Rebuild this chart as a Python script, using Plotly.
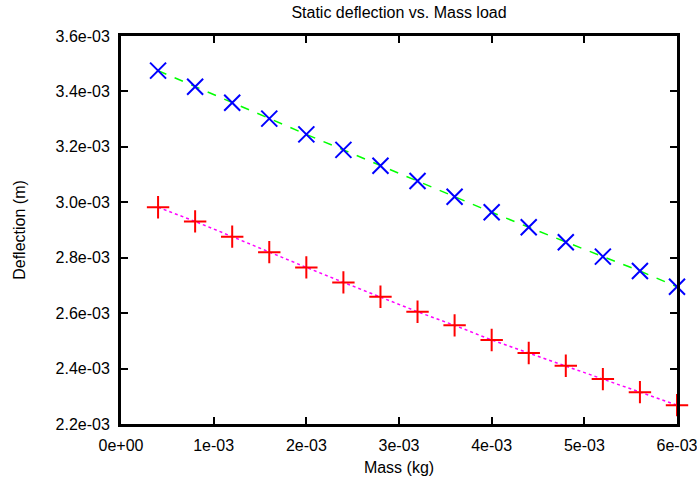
import plotly.graph_objects as go

mass = [0.4e-3, 0.8e-3, 1.2e-3, 1.6e-3, 2.0e-3, 2.4e-3, 2.8e-3, 3.2e-3,
        3.6e-3, 4.0e-3, 4.4e-3, 4.8e-3, 5.2e-3, 5.6e-3, 6.0e-3]
defl_blue = [3.475e-3, 3.417e-3, 3.359e-3, 3.302e-3, 3.245e-3, 3.189e-3, 3.132e-3,
             3.077e-3, 3.020e-3, 2.964e-3, 2.910e-3, 2.856e-3, 2.804e-3, 2.752e-3, 2.695e-3]
defl_red = [2.982e-3, 2.931e-3, 2.876e-3, 2.820e-3, 2.765e-3, 2.711e-3, 2.659e-3,
            2.605e-3, 2.556e-3, 2.503e-3, 2.456e-3, 2.410e-3, 2.362e-3, 2.315e-3, 2.268e-3]

x_ticks = [0, 1e-3, 2e-3, 3e-3, 4e-3, 5e-3, 6e-3]
x_labels = ["0e+00", "1e-03", "2e-03", "3e-03", "4e-03", "5e-03", "6e-03"]
y_ticks = [2.2e-3, 2.4e-3, 2.6e-3, 2.8e-3, 3.0e-3, 3.2e-3, 3.4e-3, 3.6e-3]
y_labels = ["2.2e-03", "2.4e-03", "2.6e-03", "2.8e-03", "3.0e-03", "3.2e-03", "3.4e-03", "3.6e-03"]

fig = go.Figure()
fig.add_trace(go.Scatter(x=mass, y=defl_blue, mode="lines",
                         line=dict(color="#00ff00", width=1.5, dash="dash"),
                         showlegend=False, hoverinfo="skip"))
fig.add_trace(go.Scatter(x=mass, y=defl_red, mode="lines",
                         line=dict(color="#ff00ff", width=1.5, dash="dot"),
                         showlegend=False, hoverinfo="skip"))
fig.add_trace(go.Scatter(x=mass, y=defl_blue, mode="markers", cliponaxis=False,
                         marker=dict(symbol="x-thin", size=16, color="#0000ff",
                                     line=dict(color="#0000ff", width=2)),
                         showlegend=False))
fig.add_trace(go.Scatter(x=mass, y=defl_red, mode="markers", cliponaxis=False,
                         marker=dict(symbol="cross-thin", size=16, color="#ff0000",
                                     line=dict(color="#ff0000", width=2)),
                         showlegend=False))

font = dict(family="Liberation Sans, Arial, sans-serif", size=16, color="black")
axis_common = dict(showgrid=False, zeroline=False, showline=True, mirror="allticks",
                   linecolor="black", linewidth=3, ticks="inside", ticklen=7,
                   tickwidth=2, tickcolor="black", tickfont=font, automargin=False,
                   ticklabelstandoff=5, ticklabeloverflow="allow")

fig.update_layout(
    width=697, height=480,
    margin=dict(l=121, r=20, t=36, b=56),
    paper_bgcolor="white", plot_bgcolor="white",
    font=font,
    title=dict(text="Static deflection vs. Mass load", x=0.5, xref="paper",
               xanchor="center", y=1 - 12 / 480, yanchor="middle", font=font),
    xaxis=dict(range=[0, 6e-3], tickvals=x_ticks, ticktext=x_labels,
               title=dict(text="Mass (kg)", font=font, standoff=9), **axis_common),
    yaxis=dict(range=[2.2e-3, 3.6e-3], tickvals=y_ticks, ticktext=y_labels,
               title=dict(text="Deflection (m)", font=font, standoff=26), **axis_common),
)

fig.write_html("out.html")
